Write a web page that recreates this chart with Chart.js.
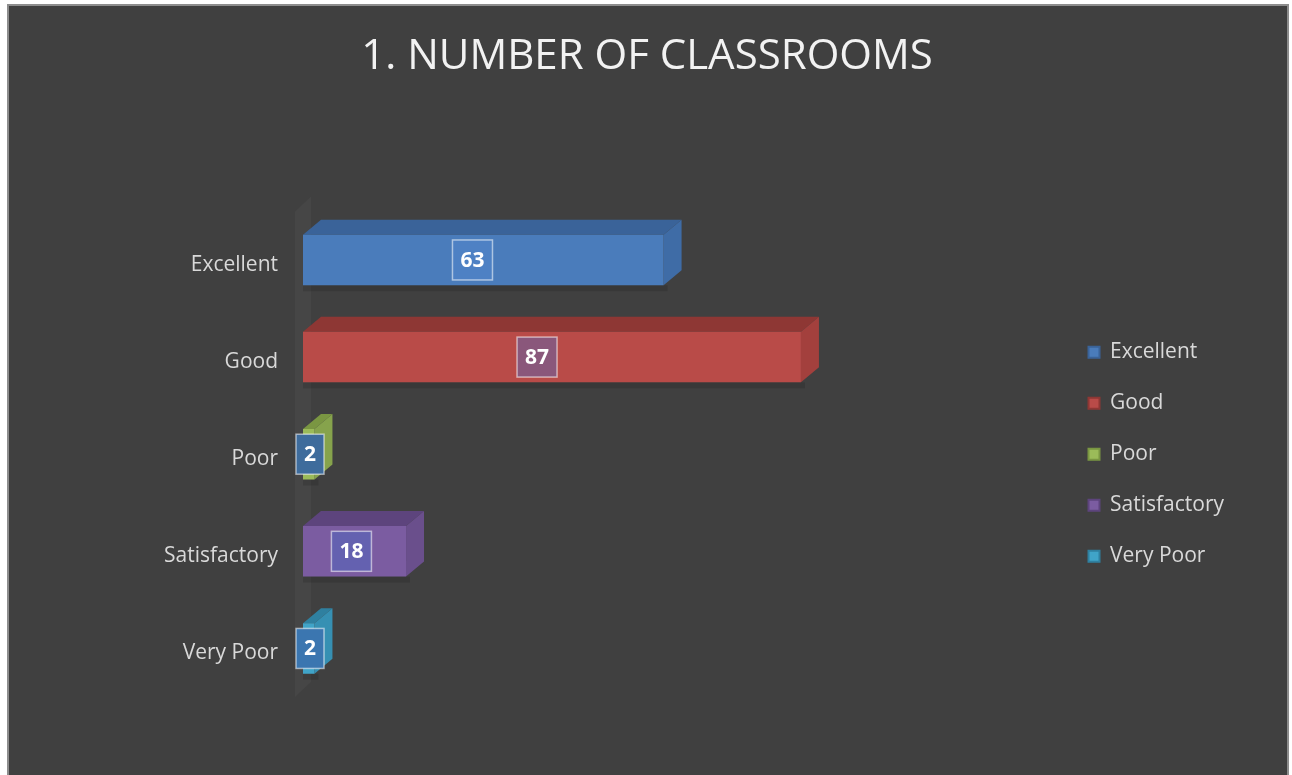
<!DOCTYPE html>
<html>
<head>
<meta charset="utf-8">
<script src="https://cdn.jsdelivr.net/npm/chart.js@4.4.0/dist/chart.umd.min.js"></script>
<style>
html, body { margin: 0; padding: 0; background: #fff; overflow: hidden; }
#frame { position: absolute; left: 7px; top: 4px; width: 1278px; height: 800px; background: #404040; border: 2px solid #8d8d8d; }
#chart { position: absolute; left: 0; top: 0; }
</style>
</head>
<body>
<div id="frame"></div>
<canvas id="chart" width="1292" height="775"></canvas>
<script>
// data
const categories = ['Excellent', 'Good', 'Poor', 'Satisfactory', 'Very Poor'];
const classroomCounts = [63, 87, 2, 18, 2];
const chartTitle = '1. NUMBER OF CLASSROOMS';

// colours per category
const barColors = ['#4a7cbb', '#b94b48', '#9bbb59', '#7b5ca1', '#40a4c8'];
const topColors = ['#3a6399', '#8e3734', '#7a9642', '#5d447d', '#2f80a0'];
const endColors = ['#3f6ca6', '#a3403d', '#86a34c', '#6a4f8c', '#3690b3'];
const boxColors = ['#4e81c4', '#8a577b', '#3e6c9c', '#6461b0', '#3b76b0'];

const textColor = '#d9d9d9';

// fake 3D: top and end faces behind each bar
const bar3d = {
    id: 'bar3d',
    beforeDatasetsDraw(chart) {
        const ctx = chart.ctx;
        const area = chart.chartArea;
        const dx = 18, dy = 15;

        // faint side wall along the category axis
        ctx.save();
        ctx.fillStyle = 'rgba(255,255,255,0.03)';
        ctx.beginPath();
        ctx.moveTo(area.left - 8, area.top);
        ctx.lineTo(area.left + 8, area.top - dy);
        ctx.lineTo(area.left + 8, area.bottom - dy);
        ctx.lineTo(area.left - 8, area.bottom);
        ctx.closePath();
        ctx.fill();
        ctx.restore();

        chart.getDatasetMeta(0).data.forEach((bar, i) => {
            const top = bar.y - bar.height / 2;
            const bottom = bar.y + bar.height / 2;
            ctx.save();
            // soft shadow under the bar
            ctx.fillStyle = 'rgba(0,0,0,0.12)';
            ctx.fillRect(bar.base, bottom, bar.x - bar.base + 4, 6);

            ctx.fillStyle = topColors[i];
            ctx.beginPath();
            ctx.moveTo(bar.base, top);
            ctx.lineTo(bar.x, top);
            ctx.lineTo(bar.x + dx, top - dy);
            ctx.lineTo(bar.base + dx, top - dy);
            ctx.closePath();
            ctx.fill();

            ctx.fillStyle = endColors[i];
            ctx.beginPath();
            ctx.moveTo(bar.x, top);
            ctx.lineTo(bar.x + dx, top - dy);
            ctx.lineTo(bar.x + dx, bottom - dy);
            ctx.lineTo(bar.x, bottom);
            ctx.closePath();
            ctx.fill();
            ctx.restore();
        });
    }
};

// boxed value labels
const valueBoxes = {
    id: 'valueBoxes',
    afterDatasetsDraw(chart) {
        const ctx = chart.ctx;
        ctx.save();
        ctx.font = 'bold 21px "Open Sans"';
        ctx.textAlign = 'center';
        ctx.textBaseline = 'middle';
        chart.getDatasetMeta(0).data.forEach((bar, i) => {
            const txt = String(classroomCounts[i]);
            const w = ctx.measureText(txt).width + 16;
            const h = 40;
            let cx = bar.base + (bar.x - bar.base) * 0.47;
            cx = Math.max(cx, bar.base - 7 + w / 2);
            ctx.fillStyle = boxColors[i];
            ctx.fillRect(cx - w / 2, bar.y - h / 2, w, h);
            ctx.strokeStyle = 'rgba(255,255,255,0.55)';
            ctx.lineWidth = 1.5;
            ctx.strokeRect(cx - w / 2, bar.y - h / 2, w, h);
            ctx.fillStyle = '#ffffff';
            ctx.fillText(txt, cx, bar.y + 1);
        });
        ctx.restore();
    }
};

Chart.defaults.font.family = '"Open Sans", sans-serif';

new Chart(document.getElementById('chart'), {
    type: 'bar',
    data: {
        labels: categories,
        datasets: [{
            data: classroomCounts,
            backgroundColor: barColors,
            borderWidth: 0,
            barPercentage: 0.52,
            categoryPercentage: 1
        }]
    },
    options: {
        indexAxis: 'y',
        responsive: false,
        animation: false,
        layout: {
            padding: { left: 60, right: 58, top: 0, bottom: 78 }
        },
        scales: {
            x: {
                min: 0,
                max: 132,
                display: false
            },
            y: {
                afterFit: (scale) => { scale.width = 243; },
                grid: { display: false, drawTicks: false },
                border: { display: false },
                ticks: {
                    color: textColor,
                    font: { size: 21 },
                    padding: 25,
                    labelOffset: 5
                }
            }
        },
        plugins: {
            title: {
                display: true,
                text: chartTitle,
                color: '#f2f2f2',
                font: { size: 42, weight: 'normal' },
                padding: { top: 32, bottom: 129 }
            },
            legend: {
                position: 'right',
                fullSize: false,
                labels: {
                    boxWidth: 11,
                    boxHeight: 11,
                    padding: 30,
                    color: textColor,
                    font: { size: 21 },
                    generateLabels: () => categories.map((c, i) => ({
                        text: c,
                        fillStyle: barColors[i],
                        strokeStyle: topColors[i],
                        lineWidth: 2,
                        fontColor: textColor,
                        hidden: false,
                        index: i,
                        datasetIndex: 0
                    }))
                }
            },
            tooltip: { enabled: false }
        }
    },
    plugins: [bar3d, valueBoxes]
});
</script>
</body>
</html>
